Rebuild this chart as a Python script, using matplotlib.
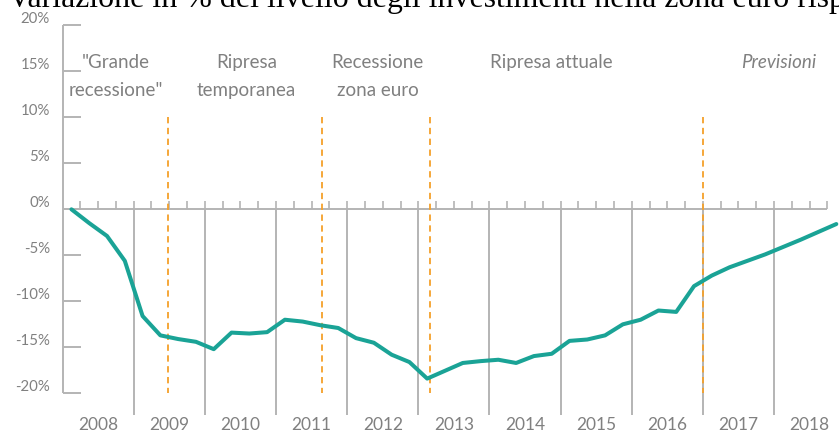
import matplotlib
matplotlib.use("Agg")
import matplotlib.pyplot as plt
from matplotlib.font_manager import FontProperties
from matplotlib.textpath import TextPath
import numpy as np

# ---------------- data ----------------
title = "Variazione in % del livello degli investimenti nella zona euro rispetto al 2008"
start_year = 2008
# quarterly change in investment level vs 2008Q1 (%), 2008Q1 .. 2018Q4
values = [0.0, -1.5, -2.9, -5.6,
          -11.6, -13.7, -14.1, -14.4,
          -15.2, -13.4, -13.5, -13.35,
          -12.0, -12.2, -12.6, -12.9,
          -14.0, -14.5, -15.8, -16.6,
          -18.4, -17.55, -16.7, -16.5,
          -16.35, -16.7, -15.95, -15.7,
          -14.3, -14.15, -13.7, -12.5,
          -12.0, -11.0, -11.15, -8.35,
          -7.2, -6.3, -5.6, -4.9,
          -4.1, -3.3, -2.45, -1.6]
year_labels = ["2008", "2009", "2010", "2011", "2012", "2013",
               "2014", "2015", "2016", "2017", "2018"]
ytick_values = [20, 15, 10, 5, 0, -5, -10, -15, -20]
ytick_labels = ["20%", "15%", "10%", "5%", "0%", "-5%", "-10%", "-15%", "-20%"]
phase_line1 = ['"Grande', "Ripresa", "Recessione", "Ripresa attuale", "Previsioni"]
phase_line2 = ['recessione"', "temporanea", "zona euro", "", ""]
phase_centers = [2008.75, 2010.585, 2012.43, 2014.865, 2018.07]
phase_breaks = [2009.48, 2011.65, 2013.17, 2017.0]

# ---------------- style ----------------
LINE = "#1aa396"
GRID = "#b4b4b4"
TXT = "#808080"
ORANGE = "#f5a02a"
SANS = ["Lato", "DejaVu Sans"]

W, H = 839, 434
fig = plt.figure(figsize=(W / 100, H / 100), dpi=100)
ax = fig.add_axes([0, 0, 1, 1])
XMIN, XMAX = 2007.1209, 2018.9128
ax.set_xlim(XMIN, XMAX)
ax.set_ylim(-24.42, 22.75)
ax.axis("off")

n_years = len(year_labels)
x_end = start_year + n_years - 0.25
x = start_year + (np.arange(len(values)) + 0.5) / 4.0

# y axis + ticks
ax.plot([start_year, start_year], [ytick_values[0], ytick_values[-1]],
        color=GRID, lw=1.4, clip_on=False, solid_capstyle="butt")
for v, lab in zip(ytick_values, ytick_labels):
    ax.plot([start_year, start_year + 0.26], [v, v], color=GRID, lw=1.4,
            clip_on=False, solid_capstyle="butt")
    ax.text(start_year - 0.176, v + 0.65, lab, ha="right", va="center",
            fontsize=10.8, color=TXT, family=SANS)

# x axis line and quarterly ticks
ax.plot([start_year, x_end], [0, 0], color=GRID, lw=1.4, clip_on=False,
        solid_capstyle="butt")
for q in np.arange(start_year + 0.25, x_end + 0.01, 0.25):
    ax.plot([q, q], [0, 0.95], color=GRID, lw=1.2, clip_on=False,
            solid_capstyle="butt")

# year separators and labels
for i, lab in enumerate(year_labels):
    yr = start_year + i
    if i > 0:
        ax.plot([yr, yr], [0, -22.4], color=GRID, lw=1.4, clip_on=False,
                solid_capstyle="butt")
    ax.text(yr + 0.5, -23.98, lab, ha="center", va="baseline",
            fontsize=12.5, color=TXT, family=SANS)

# phase breaks
for b in phase_breaks:
    ax.plot([b, b], [10, -20], color=ORANGE, lw=1.3, ls=(0, (3.5, 2.5)),
            clip_on=False)

# phase labels
for c, l1, l2 in zip(phase_centers, phase_line1, phase_line2):
    style = "italic" if l1 == "Previsioni" else "normal"
    ax.text(c, 15.32, l1, ha="center", va="baseline", fontsize=13.5,
            color=TXT, family=SANS, style=style)
    if l2:
        ax.text(c, 12.28, l2, ha="center", va="baseline", fontsize=13.5,
                color=TXT, family=SANS)

# main line
ax.plot(x, values, color=LINE, lw=2.9, solid_joinstyle="round",
        solid_capstyle="round", clip_on=False, zorder=5)

# cut-off title at the top: size it so "in" starts near x=143 px and
# "...euro risp" ends near the right edge, as in the source
serif = FontProperties(family="Liberation Serif", size=20)
def _w(s):
    return TextPath((0, 0), s, prop=serif).get_extents().x1 * 100 / 72
w1 = _w("Variazione ")
w2 = _w("Variazione in % del livello degli investimenti nella zona euro risp")
scale = (841 - 143) / (w2 - w1)
x0_px = 143 - scale * w1
x0 = XMIN + x0_px / W * (XMAX - XMIN)
ax.text(x0, 22.0, title, ha="left", va="baseline", fontsize=20 * scale,
        color="black", family=["Liberation Serif", "DejaVu Serif"], clip_on=False)

fig.savefig("out.png", dpi=100)
